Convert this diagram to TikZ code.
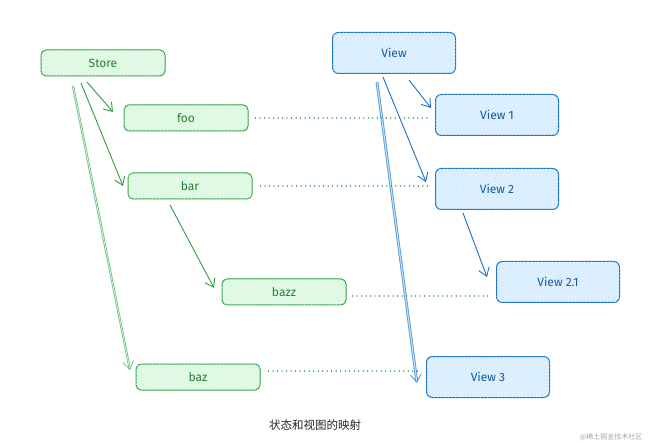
\documentclass[tikz,border=0pt]{standalone}
\usepackage{fontspec}
\setmainfont{Fira Sans}
\newfontfamily\cjk{Noto Sans CJK SC}
\usetikzlibrary{arrows.meta,patterns.meta}
\definecolor{gstroke}{HTML}{2F9E44}
\definecolor{gfill}{HTML}{B2F2BB}
\definecolor{bstroke}{HTML}{1971C2}
\definecolor{bfill}{HTML}{A5D8FF}
\tikzset{
  gbox/.style={draw=gstroke, line width=1pt, rounded corners=5pt, minimum width=124pt, minimum height=26pt,
    fill=gfill!30, postaction={pattern={Lines[angle=45,distance=2.5pt,line width=0.35pt]}, pattern color=gfill!80},
    text=gstroke!80!black, font=\fontsize{12}{14}\selectfont, inner sep=0pt},
  bbox/.style={draw=bstroke, line width=1pt, rounded corners=6pt, minimum width=123pt, minimum height=41pt,
    fill=bfill!30, postaction={pattern={Lines[angle=45,distance=2.5pt,line width=0.35pt]}, pattern color=bfill!80},
    text=bstroke!80!black, font=\fontsize{12}{14}\selectfont, inner sep=0pt},
  garrow/.style={draw=gstroke, line width=0.9pt, -{Straight Barb[length=8pt,width=11pt]}},
  barrow/.style={draw=bstroke, line width=0.9pt, -{Straight Barb[length=8pt,width=11pt]}},
  gdouble/.style={draw=gstroke!70, double=gfill!60, double distance=0.8pt, line width=0.7pt, -{Straight Barb[length=8pt,width=11pt]}},
  bdouble/.style={draw=bstroke!70, double=bfill!70, double distance=1pt, line width=0.9pt, -{Straight Barb[length=8pt,width=11pt]}},
  dots/.style={draw=gstroke, line width=1.3pt, dash pattern=on 0.01pt off 4.5pt, line cap=round},
}
\begin{document}
\begin{tikzpicture}[x=1pt,y=-1pt]
\useasboundingbox (0,0) rectangle (650,443);
\node[gbox] (store) at (103,63) {Store};
\node[gbox] (foo) at (186,118) {foo};
\node[gbox] (bar) at (190,186) {bar};
\node[gbox] (bazz) at (284,292) {bazz};
\node[gbox] (baz) at (198,377) {baz};
\node[bbox] (view) at (394,53) {View};
\node[bbox] (v1) at (497,115) {View 1};
\node[bbox] (v2) at (497,189) {View 2};
\node[bbox] (v21) at (558,282) {View 2.1};
\node[bbox] (v3) at (488,377) {View 3};
\coordinate (s1) at (87,82); \coordinate (e1) at (113,112);
\coordinate (s2) at (81,83); \coordinate (e2) at (123,186);
\coordinate (s3) at (73,86); \coordinate (e3) at (130,370);
\coordinate (s4) at (170,205); \coordinate (e4) at (214,288);
\coordinate (s5) at (409,80); \coordinate (e5) at (431,108);
\coordinate (s6) at (383,77); \coordinate (e6) at (426,182);
\coordinate (s7) at (377,82); \coordinate (e7) at (417,383);
\coordinate (s8) at (463,213); \coordinate (e8) at (487,277);
\draw[garrow] (s1) -- (e1);
\draw[garrow] (s2) -- (e2);
\draw[gdouble] (s3) -- (e3);
\draw[garrow] (s4) -- (e4);
\draw[barrow] (s5) -- (e5);
\draw[barrow] (s6) -- (e6);
\draw[bdouble] (s7) -- (e7);
\draw[barrow] (s8) -- (e8);
\draw[dots] (foo.east) ++(7,0) -- ([xshift=-6pt]v1.west |- foo.east);
\draw[dots] (bar.east) ++(8,0) -- ([xshift=-4pt]v2.west |- bar.east);
\draw[dots] ([yshift=-4pt]bazz.east) ++(6,0) -- ([xshift=-6pt,yshift=-4pt]v21.west |- bazz.east);
\draw[dots] ([yshift=6pt]baz.east) ++(8,0) -- ([xshift=-6pt,yshift=6pt]v3.west |- baz.east);
\node[font=\cjk\fontsize{11.5}{13}\selectfont, text=black!85] (title) at (315,425) {状态和视图的映射};
\node[font=\cjk\fontsize{7}{8}\selectfont, text=black!35, anchor=east] (wm) at (646,437) {@稀土掘金技术社区};
\end{tikzpicture}
\end{document}
